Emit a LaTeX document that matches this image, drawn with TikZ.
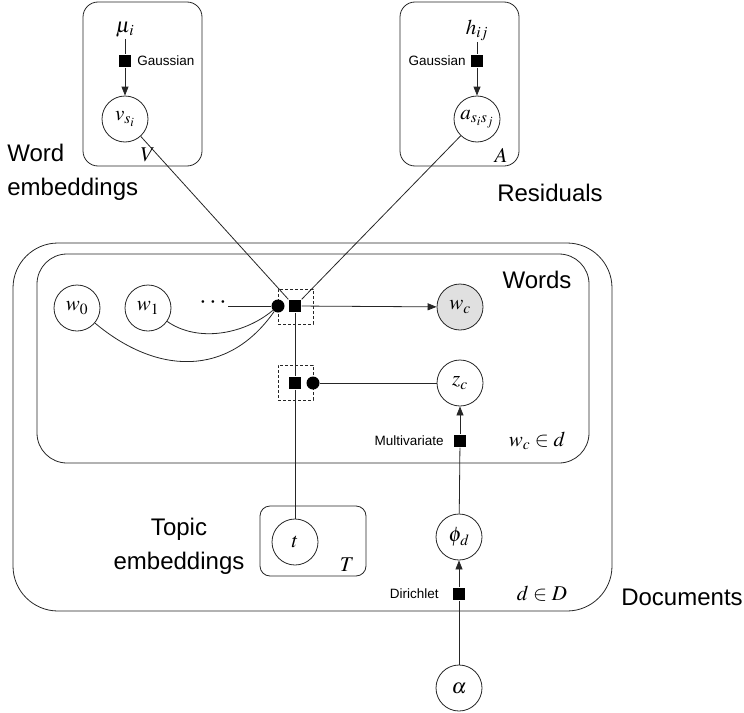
\documentclass[tikz,border=0pt]{standalone}
\usepackage{mathptmx}
\usepackage{fontspec}
\setmainfont{Liberation Sans}
\usetikzlibrary{arrows.meta}
\begin{document}
\begin{tikzpicture}[x=1pt,y=-1pt,line width=0.8pt,
  var/.style={circle, draw=black!85, minimum size=46pt, inner sep=0pt, font=\fontsize{21}{25}\selectfont},
  fac/.style={rectangle, fill=black, minimum size=12.5pt, inner sep=0pt},
  fdot/.style={circle, fill=black, minimum size=13pt, inner sep=0pt},
  dbox/.style={draw=black!85, dash pattern=on 3pt off 2pt, minimum size=35pt, inner sep=0pt},
  plate/.style={draw=black!85, inner sep=0pt},
  big/.style={font=\fontsize{24}{34}\selectfont},
  small/.style={font=\fontsize{13.5}{16}\selectfont, inner sep=0pt},
  mlab/.style={font=\fontsize{21}{25}\selectfont, inner sep=1pt},
  conn/.style={draw=black!85},
  arr/.style={conn, -{Triangle[length=9pt,width=7pt]}}
]
\useasboundingbox (0,0) rectangle (744,712);

% plates
\node[plate, rounded corners=15pt, minimum width=119pt, minimum height=164pt] (plV) at (142.5,84) {};
\node[plate, rounded corners=15pt, minimum width=119pt, minimum height=164pt] (plA) at (459.5,84) {};
\node[plate, rounded corners=45pt, minimum width=599pt, minimum height=368pt] (plD) at (312.5,427) {};
\node[plate, rounded corners=30pt, minimum width=552pt, minimum height=209pt] (plW) at (313,358.5) {};
\node[plate, rounded corners=10pt, minimum width=106pt, minimum height=70pt] (plT) at (313,541) {};

% plate labels
\node[mlab] (lV) at (148,155) {$V$};
\node[mlab] (lA) at (501,155) {$A$};
\node[mlab] (lT) at (347,565) {$T$};
\node[mlab] (lW) at (537,441) {$w_c \in d$};
\node[mlab] (lD) at (542,594) {$d \in D$};

% big labels
\node[big, align=left, anchor=west, inner sep=0pt] (tWE) at (7,172) {Word\\embeddings};
\node[big, inner sep=0pt] (tRes) at (550,193) {Residuals};
\node[big, inner sep=0pt] (tWords) at (537,280) {Words};
\node[big, align=center, inner sep=0pt] (tTE) at (179,546) {Topic\\embeddings};
\node[big, inner sep=0pt] (tDoc) at (682,597) {Documents};

% top plates
\node[mlab] (mu) at (125,30) {$\mu_{\mkern1mu i}$};
\node[fac] (g1) at (125,61) {};
\node[small, anchor=west] (g1l) at (137,61) {Gaussian};
\node[var] (v) at (125,119) {$v_{s_i}$};

\node[mlab] (h) at (477,30) {$h_{ij}$};
\node[fac] (g2) at (477,61) {};
\node[small, anchor=east] (g2l) at (466,61) {Gaussian};
\node[var] (a) at (477,119) {$a_{s_is_j}$};

\draw[conn] (mu) -- (g1);
\draw[arr] (g1) -- (v);
\draw[conn] (h) -- (g2);
\draw[arr] (g2) -- (a);

% words plate
\node[var] (w0) at (77,308) {$w_0$};
\node[var] (w1) at (148,308) {$w_1$};
\node[font=\fontsize{26}{30}\selectfont, inner sep=1pt] (dots) at (213,303) {$\cdots$};
\node[dbox] (db1) at (295.5,306.5) {};
\node[fdot] (fd1) at (278,306) {};
\node[fac] (fs1) at (295,306) {};
\node[var, fill=black!12] (wc) at (460,307) {$w_c$};

\node[dbox] (db2) at (295.5,382.5) {};
\node[fac] (fs2) at (295,383) {};
\node[fdot] (fd2) at (313,383) {};
\node[var] (zc) at (460,383) {$z_c$};

\node[fac] (ms) at (460,441) {};
\node[small, anchor=east] (msl) at (444,441) {Multivariate};

% documents plate
\node[var] (t) at (295,542) {$t$};
\node[var] (phi) at (459,537) {$\phi_{\mkern1mu d}$};
\node[fac] (ds) at (459,594) {};
\node[small, anchor=east] (dsl) at (439,594) {Dirichlet};
\node[var] (alpha) at (459,688) {$\alpha$};

% connectors
\draw[conn] (v) -- (fs1.north west);
\draw[conn] (a) -- (fs1.north east);
\draw[conn] (dots.east |- fd1) -- (fd1);
\draw[conn] (w0) to[out=-40, in=-125, looseness=1.15] (fd1);
\draw[conn] (w1) to[out=-35, in=-140, looseness=0.9] (fd1);
\draw[arr] (fs1) -- (wc);
\draw[conn] (fs1) -- (fs2);
\draw[conn] (fs2) -- (t);
\draw[conn] (fd2) -- (zc);
\draw[conn] (alpha) -- (ds);
\draw[arr] (ds) -- (phi);
\draw[conn] (phi) -- (ms);
\draw[arr] (ms) -- (zc);
\end{tikzpicture}
\end{document}
